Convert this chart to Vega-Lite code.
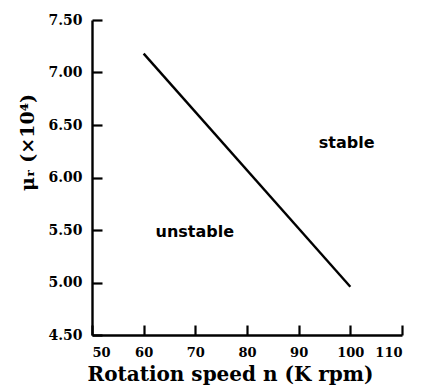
{
  "$schema": "https://vega.github.io/schema/vega-lite/v6.json",
  "width": 310,
  "height": 315,
  "autosize": {"type": "none"},
  "padding": {"left": 92, "top": 20, "right": 19, "bottom": 51},
  "background": "white",
  "config": {
    "view": {"stroke": null},
    "font": "DejaVu Serif",
    "axis": {
      "grid": false,
      "domainColor": "black",
      "domainWidth": 2.4,
      "tickColor": "black",
      "tickWidth": 2.2,
      "tickSize": -10,
      "labelFont": "DejaVu Serif",
      "labelFontWeight": "bold",
      "labelFontSize": 14,
      "labelColor": "black",
      "titleFont": "DejaVu Serif",
      "titleFontWeight": "bold",
      "titleColor": "black"
    }
  },
  "datasets": {
    "curve": [
      {"n": 60, "mu": 7.18},
      {"n": 100, "mu": 4.96}
    ],
    "labels": [
      {"n": 99.3, "mu": 6.33, "text": "stable"},
      {"n": 69.9, "mu": 5.48, "text": "unstable"}
    ]
  },
  "layer": [
    {
      "data": {"name": "curve"},
      "mark": {"type": "line", "color": "black", "strokeWidth": 2.4},
      "encoding": {
        "x": {
          "field": "n",
          "type": "quantitative",
          "scale": {"domain": [50, 110], "nice": false},
          "axis": {
            "values": [50, 60, 70, 80, 90, 100, 110],
            "title": "Rotation speed n (K rpm)",
            "titleFontSize": 20,
            "labelFontSize": 13,
            "labelPadding": 21,
            "titleX": 138,
            "titleY": 29,
            "titleBaseline": "top"
          }
        },
        "y": {
          "field": "mu",
          "type": "quantitative",
          "scale": {"domain": [4.5, 7.5], "nice": false, "zero": false},
          "axis": {
            "values": [4.5, 5.0, 5.5, 6.0, 6.5, 7.0, 7.5],
            "format": ".2f",
            "title": "μᵣ (×10⁴)",
            "titleFontSize": 19,
            "labelPadding": 20,
            "titlePadding": 10,
            "titleY": 122,
            "titleAlign": "center"
          }
        }
      }
    },
    {
      "data": {"name": "labels"},
      "mark": {"type": "text", "font": "DejaVu Sans", "fontWeight": "bold", "fontSize": 16, "color": "black"},
      "encoding": {
        "x": {"field": "n", "type": "quantitative"},
        "y": {"field": "mu", "type": "quantitative"},
        "text": {"field": "text"}
      }
    }
  ]
}
